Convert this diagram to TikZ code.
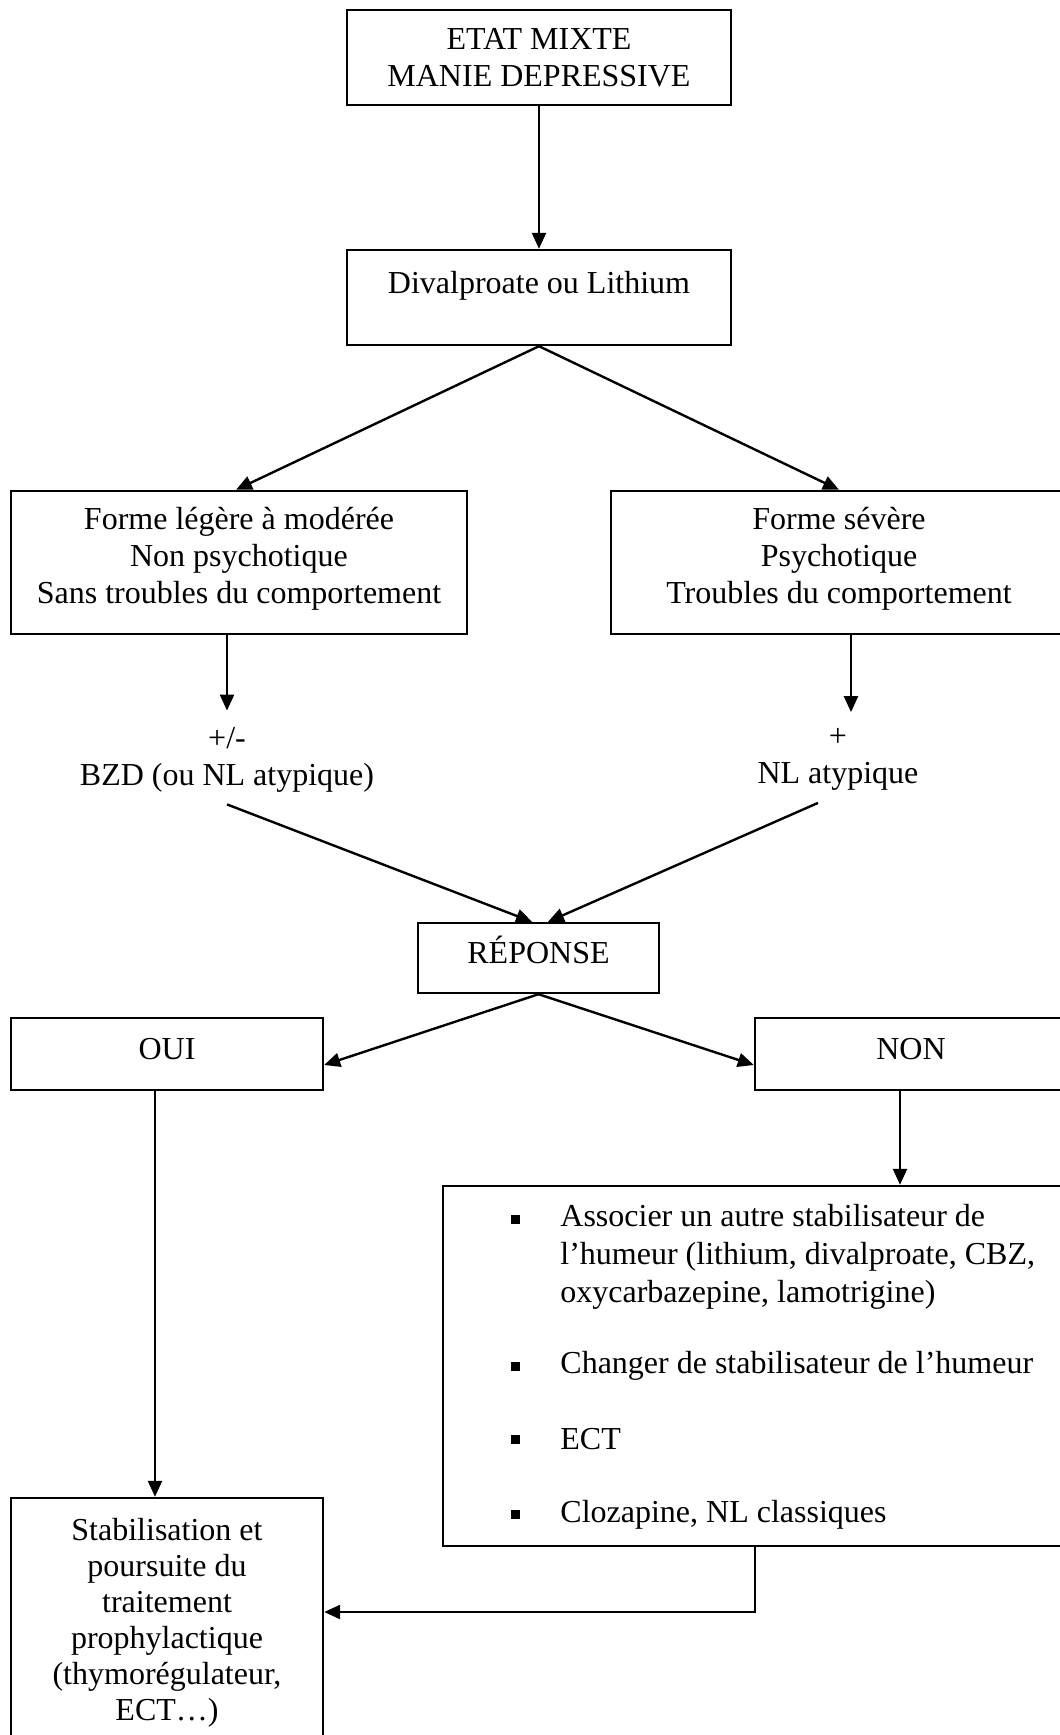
\documentclass[tikz,border=0pt]{standalone}
\usepackage{fontspec}
\setmainfont{Liberation Serif}
\usetikzlibrary{arrows.meta}
\begin{document}
\begin{tikzpicture}[x=0.5pt,y=-0.5pt,
  txt/.style={font=\fontsize{16}{18.5}\selectfont, align=center, inner sep=0pt},
  box/.style={draw, line width=1.2pt, rectangle, inner sep=0pt, font=\fontsize{16}{18.5}\selectfont, align=center},
  arr/.style={line width=1.2pt, -{Triangle[length=8pt,width=7pt]}},
  bul/.style={fill=black, rectangle, inner sep=0pt, minimum size=4.5pt}]
\path[use as bounding box] (0,0) rectangle (1060,1735);
\clip (0,0) rectangle (1060,1735);
% boxes
\node[box, minimum width=192pt, minimum height=47.5pt] (top) at (539,57.5) {ETAT MIXTE\\MANIE DEPRESSIVE};
\node[box, minimum width=192pt, minimum height=47.5pt] (dival) at (539,297.5) {Divalproate ou Lithium\\[-9pt]\strut};
\node[box, minimum width=228pt, minimum height=71.5pt, text depth=7pt] (lbox) at (239,562.5) {Forme légère à modérée\\Non psychotique\\Sans troubles du comportement};
\node[box, minimum width=228pt, minimum height=71.5pt, text depth=7pt] (rbox) at (839,562.5) {Forme sévère\\Psychotique\\Troubles du comportement};
\node[txt] (lblL) at (227,759.5) {+/-\\BZD (ou NL atypique)};
\node[txt] (lblR) at (838,759.5) {+\\NL atypique};
\node[box, minimum width=120.5pt, minimum height=35pt, text depth=8pt] (rep) at (538.5,958) {RÉPONSE};
\node[box, minimum width=156pt, minimum height=36pt, text depth=5.5pt] (oui) at (167,1054) {OUI};
\node[box, minimum width=156pt, minimum height=36pt, text depth=5.5pt] (non) at (911,1054) {NON};
\node[box, minimum width=318.5pt, minimum height=180pt] (big) at (761.5,1366) {};
\node[box, minimum width=156pt, minimum height=125pt, font=\fontsize{16}{18}\selectfont] (fin) at (167,1623) {Stabilisation et\\poursuite du\\traitement\\prophylactique\\(thymorégulateur,\\ECT…)};
% list in big box
\node[bul] (b1) at (515,1219) {};
\node[bul] (b2) at (515,1366) {};
\node[bul] (b3) at (515,1439) {};
\node[bul] (b4) at (515,1514) {};
\node[txt, align=left, anchor=west, font=\fontsize{16}{19}\selectfont] (i1) at (560,1257) {Associer un autre stabilisateur de\\l’humeur (lithium, divalproate, CBZ,\\oxycarbazepine, lamotrigine)};
\node[txt, align=left, anchor=west] (i2) at (560,1366) {Changer de stabilisateur de l’humeur};
\node[txt, align=left, anchor=west] (i3) at (560,1439) {ECT};
\node[txt, align=left, anchor=west] (i4) at (560,1515) {Clozapine, NL classiques};
% connectors
\draw[arr] (top.south) -- (dival.north);
\draw[arr] (dival.south) -- ([xshift=-1.5pt]lbox.north);
\draw[arr] (dival.south) -- (rbox.north);
\draw[arr] (lbox.south -| lblL.north) -- ([yshift=8pt]lblL.north);
\draw[arr] ([xshift=6.5pt]rbox.south -| lblR.north) -- ([xshift=6.5pt,yshift=8pt]lblR.north);
\draw[arr] ([yshift=-6pt]lblL.south) -- ([xshift=-3.25pt]rep.north);
\draw[arr] ([yshift=-6pt,xshift=-10pt]lblR.south) -- ([xshift=4.75pt]rep.north);
\draw[arr] (rep.south) -- ([yshift=-5.5pt]oui.east);
\draw[arr] (rep.south) -- ([yshift=-5.5pt]non.west);
\draw[arr] ([xshift=-6pt]oui.south) -- ([xshift=-6pt]fin.north);
\draw[arr] ([xshift=-5.5pt]non.south) -- ([xshift=-5.5pt]non.south |- big.north);
\draw[arr] ([xshift=-3.25pt]big.south) |- ([yshift=5.5pt]fin.east);
\end{tikzpicture}
\end{document}
